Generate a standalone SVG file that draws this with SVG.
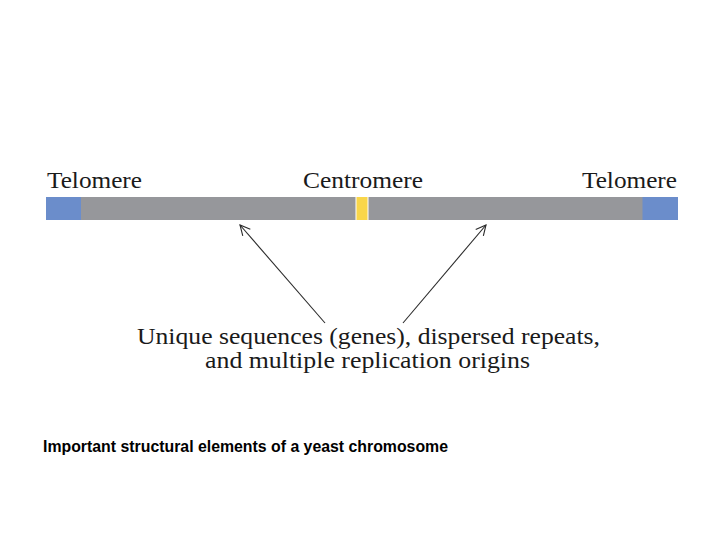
<svg xmlns="http://www.w3.org/2000/svg" width="720" height="540" viewBox="0 0 720 540">
<style>
.lbl{font-family:"Liberation Serif","DejaVu Serif",serif;font-size:23px;fill:#1a1a1a}
.cap{font-family:"Liberation Sans",Arial,sans-serif;font-weight:bold;font-size:16px;fill:#000}
.arr{stroke:#2a2a2a;stroke-width:1.1;fill:none}
</style>
<defs>
<marker id="ah" markerWidth="14" markerHeight="14" refX="12" refY="7" orient="auto" markerUnits="userSpaceOnUse">
<path d="M2,2 L12,7 L2,12" fill="none" stroke="#2a2a2a" stroke-width="1.1"/>
</marker>
</defs>
<rect width="720" height="540" fill="#fff"/>
<g id="chromosome">
<rect x="46" y="197" width="632" height="23" fill="#96979b"/>
<rect x="46" y="197" width="35" height="23" fill="#6b8dcb"/>
<rect x="642.5" y="197" width="35.5" height="23" fill="#6b8dcb"/>
<rect x="355.5" y="197" width="13" height="23" fill="#fff"/>
<rect x="356.5" y="197" width="11" height="23" fill="#f9d64a"/>
</g>
<g id="telomere-left"><text class="lbl" x="47" y="188" textLength="95" lengthAdjust="spacingAndGlyphs">Telomere</text></g>
<g id="centromere"><text class="lbl" x="303" y="188" textLength="120" lengthAdjust="spacingAndGlyphs">Centromere</text></g>
<g id="telomere-right"><text class="lbl" x="582" y="188" textLength="95" lengthAdjust="spacingAndGlyphs">Telomere</text></g>
<g id="label">
<text class="lbl" x="137" y="344" textLength="463" lengthAdjust="spacingAndGlyphs">Unique sequences (genes), dispersed repeats,</text>
<text class="lbl" x="205" y="368" textLength="325" lengthAdjust="spacingAndGlyphs">and multiple replication origins</text>
</g>
<g id="connectors">
<line class="arr" x1="325" y1="323" x2="240" y2="225" marker-end="url(#ah)"/>
<line class="arr" x1="403" y1="323" x2="486" y2="225" marker-end="url(#ah)"/>
</g>
<g id="caption"><text class="cap" x="43" y="452" textLength="405" lengthAdjust="spacingAndGlyphs">Important structural elements of a yeast chromosome</text></g>
</svg>
